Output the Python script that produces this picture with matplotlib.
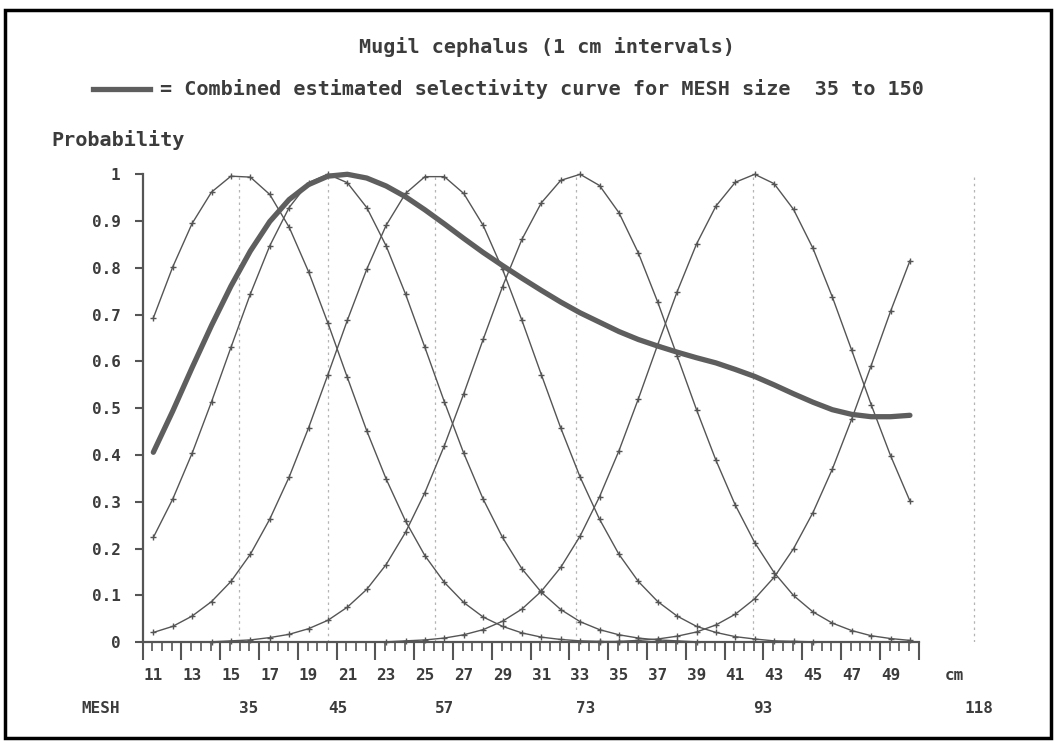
import numpy as np
import matplotlib.pyplot as plt
import matplotlib.transforms as mtransforms
from matplotlib.patches import Rectangle
from matplotlib.lines import Line2D

"""
Gillnet selectivity curves for Mugil cephalus, one curve per mesh size,
plus the combined estimated selectivity curve.
"""

nan = np.nan

# length classes (cm)
length_cm = list(range(11, 51))

# mesh sizes and where their curves peak (cm)
mesh_sizes = [35, 45, 57, 73, 93, 118]
mesh_modes = [15.43, 20.02, 25.52, 32.79, 41.93, 53.3]

# selectivity per mesh size at 11..50 cm
sel_35 = [0.693, 0.802, 0.895, 0.962, 0.996, 0.994, 0.957, 0.887, 0.792, 0.682,
          0.566, 0.452, 0.349, 0.259, 0.185, 0.128, 0.085, 0.054, 0.034, 0.020,
          0.011, 0.006, 0.003, 0.002, 0.001] + [nan] * 15
sel_45 = [0.224, 0.306, 0.404, 0.514, 0.630, 0.744, 0.847, 0.929, 0.982, 1.000,
          0.982, 0.929, 0.847, 0.744, 0.630, 0.514, 0.404, 0.306, 0.224, 0.157,
          0.107, 0.070, 0.044, 0.027, 0.016, 0.009, 0.005, 0.003, 0.001] + [nan] * 11
sel_57 = [0.021, 0.034, 0.056, 0.087, 0.130, 0.188, 0.263, 0.353, 0.458, 0.572,
          0.688, 0.797, 0.891, 0.959, 0.995, 0.995, 0.959, 0.891, 0.797, 0.688,
          0.572, 0.458, 0.353, 0.263, 0.188, 0.130, 0.087, 0.056, 0.034, 0.021,
          0.012, 0.007, 0.003, 0.002, 0.001] + [nan] * 5
sel_73 = [nan] * 3 + [
          0.001, 0.003, 0.005, 0.010, 0.017, 0.029, 0.047, 0.075, 0.113, 0.166,
          0.235, 0.320, 0.420, 0.531, 0.647, 0.760, 0.861, 0.939, 0.987, 1.000,
          0.976, 0.918, 0.832, 0.727, 0.612, 0.497, 0.389, 0.293, 0.213, 0.149,
          0.100, 0.065, 0.041, 0.025, 0.014, 0.008, 0.004]
sel_93 = [nan] * 12 + [
          0.001, 0.003, 0.005, 0.009, 0.016, 0.027, 0.045, 0.071, 0.109, 0.160,
          0.227, 0.311, 0.409, 0.520, 0.636, 0.749, 0.851, 0.932, 0.983, 1.000,
          0.980, 0.925, 0.842, 0.738, 0.624, 0.508, 0.399, 0.302]
sel_118 = [nan] * 23 + [
          0.001, 0.002, 0.004, 0.007, 0.013, 0.022, 0.037, 0.060, 0.093, 0.139,
          0.200, 0.277, 0.370, 0.477, 0.591, 0.707, 0.815]

# combined estimated selectivity curve
combined = [0.406, 0.494, 0.587, 0.677, 0.761, 0.836, 0.899, 0.946, 0.978, 0.996,
            1.000, 0.992, 0.975, 0.952, 0.924, 0.894, 0.863, 0.833, 0.805, 0.778,
            0.752, 0.727, 0.704, 0.684, 0.664, 0.647, 0.633, 0.620, 0.608, 0.597,
            0.583, 0.568, 0.550, 0.531, 0.513, 0.497, 0.487, 0.482, 0.482, 0.485]

y_ticks = [0, 0.1, 0.2, 0.3, 0.4, 0.5, 0.6, 0.7, 0.8, 0.9, 1]
y_labels = ['0', '0.1', '0.2', '0.3', '0.4', '0.5', '0.6', '0.7', '0.8', '0.9', '1']
x_labels = list(range(11, 50, 2))

LINE = '#555555'
TEXT = '#3c3c3c'
MONO = ['DejaVu Sans Mono']


def draw_curves(ax):
    """Draw the single-mesh curves, the guides and the combined curve."""
    ax.vlines(mesh_modes, 0, 1, colors='#b4b4b4', linestyles=(0, (2, 3)),
              lw=0.9, zorder=1)
    for sel in [sel_35, sel_45, sel_57, sel_73, sel_93, sel_118]:
        ax.plot(length_cm, sel, color=LINE, lw=1.0, marker='+', ms=4.5,
                mew=1.0, clip_on=False, zorder=2)
    ax.plot(length_cm, combined, color='#5e5e5e', lw=3.8,
            solid_capstyle='round', clip_on=False, zorder=3)


def style_axes(ax):
    """Axis lines, ticks and labels in the old DOS-chart look."""
    ax.set_xlim(10.45, 54.64)
    ax.set_ylim(0, 1)
    for side in ['top', 'right']:
        ax.spines[side].set_visible(False)
    ax.spines['left'].set_bounds(0, 1)
    ax.spines['bottom'].set_bounds(10.45, 50.45)
    for side in ['left', 'bottom']:
        ax.spines[side].set_color(LINE)
        ax.spines[side].set_linewidth(1.6)

    ax.set_yticks(y_ticks)
    ax.set_yticklabels(y_labels, family=MONO, weight='bold', size=11.5, color=TEXT)
    ax.tick_params(axis='y', length=6, width=1.5, color=LINE, pad=10)

    # long ticks every 2 cm, short ones every half cm
    ax.set_xticks(np.arange(10.45, 50.5, 2))
    ax.set_xticks(np.arange(10.45, 50.5, 0.5), minor=True)
    ax.set_xticklabels([])
    ax.tick_params(axis='x', which='major', length=13, width=1.5, color=LINE)
    ax.tick_params(axis='x', which='minor', length=6.5, width=1.2, color=LINE)

    trans = mtransforms.blended_transform_factory(ax.transData, ax.transAxes)
    for v in x_labels:
        ax.text(v, -0.07, str(v), transform=trans, ha='center', va='center',
                family=MONO, weight='bold', size=11.5, color=TEXT)
    ax.text(52.3, -0.07, 'cm', transform=trans, ha='center', va='center',
            family=MONO, weight='bold', size=11.5, color=TEXT)
    ax.text(8.3, -0.1425, 'MESH', transform=trans, ha='center', va='center',
            family=MONO, weight='bold', size=11.5, color=TEXT)
    for pos, mesh in zip(mesh_modes, mesh_sizes):
        ax.text(pos + 0.98, -0.1425, str(mesh), transform=trans, ha='right',
                va='center', family=MONO, weight='bold', size=11.5, color=TEXT)


def add_header(fig):
    """Title, legend line and the y axis caption."""
    fig.text(0.518, 0.9367, 'Mugil cephalus (1 cm intervals)', ha='center',
             va='center', family=MONO, weight='bold', size=14.5, color=TEXT)
    fig.add_artist(Line2D([93 / 1056, 150 / 1056], [0.880, 0.880],
                          color='#5e5e5e', lw=3.8))
    fig.text(160 / 1056, 0.880,
             '= Combined estimated selectivity curve for MESH size  35 to 150',
             ha='left', va='center', family=MONO, weight='bold', size=14.5,
             color=TEXT)
    fig.text(51 / 1056, 0.8113, 'Probability', ha='left', va='center',
             family=MONO, weight='bold', size=14.5, color=TEXT)
    fig.add_artist(Rectangle((5 / 1056, 4 / 742), 1046 / 1056, 728 / 742,
                             fill=False, ec='black', lw=2.5,
                             transform=fig.transFigure))


def main():
    fig = plt.figure(figsize=(10.56, 7.42), dpi=100)
    ax = fig.add_axes([0.1351, 0.1344, 0.8118, 0.6307])
    draw_curves(ax)
    style_axes(ax)
    add_header(fig)
    fig.savefig('out.png', dpi=100)


if __name__ == '__main__':
    main()
